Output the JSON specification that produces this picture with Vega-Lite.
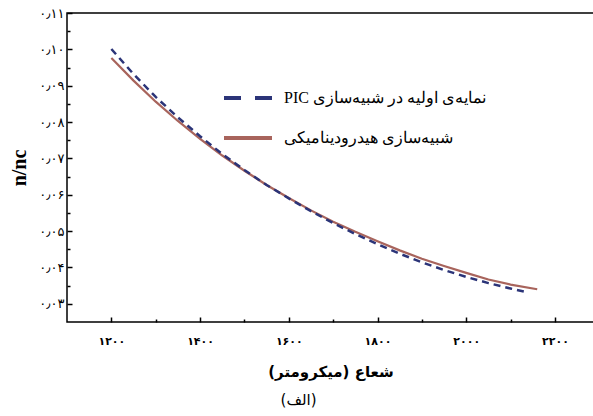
{
  "$schema": "https://vega.github.io/schema/vega-lite/v6.json",
  "width": 527,
  "height": 309,
  "autosize": "none",
  "padding": {"left": 67, "top": 13, "right": -1, "bottom": 94},
  "background": "white",
  "config": {"view": {"stroke": "black", "strokeWidth": 1.5}, "font": "DejaVu Sans"},
  "title": {"text": "(الف)", "orient": "bottom", "anchor": "middle", "frame": "group", "offset": 14, "dx": -32, "fontSize": 15, "fontWeight": "normal", "font": "DejaVu Sans", "color": "black"},
  "data": {"values": [
    {"r": 1200, "n": 0.0976, "series": "شبیه‌سازی هیدرودینامیکی"},
    {"r": 1250, "n": 0.0914, "series": "شبیه‌سازی هیدرودینامیکی"},
    {"r": 1300, "n": 0.0856, "series": "شبیه‌سازی هیدرودینامیکی"},
    {"r": 1350, "n": 0.0803, "series": "شبیه‌سازی هیدرودینامیکی"},
    {"r": 1400, "n": 0.0754, "series": "شبیه‌سازی هیدرودینامیکی"},
    {"r": 1450, "n": 0.0708, "series": "شبیه‌سازی هیدرودینامیکی"},
    {"r": 1500, "n": 0.0666, "series": "شبیه‌سازی هیدرودینامیکی"},
    {"r": 1550, "n": 0.0627, "series": "شبیه‌سازی هیدرودینامیکی"},
    {"r": 1600, "n": 0.0591, "series": "شبیه‌سازی هیدرودینامیکی"},
    {"r": 1650, "n": 0.0557, "series": "شبیه‌سازی هیدرودینامیکی"},
    {"r": 1700, "n": 0.0526, "series": "شبیه‌سازی هیدرودینامیکی"},
    {"r": 1750, "n": 0.0498, "series": "شبیه‌سازی هیدرودینامیکی"},
    {"r": 1800, "n": 0.0472, "series": "شبیه‌سازی هیدرودینامیکی"},
    {"r": 1850, "n": 0.0447, "series": "شبیه‌سازی هیدرودینامیکی"},
    {"r": 1900, "n": 0.0424, "series": "شبیه‌سازی هیدرودینامیکی"},
    {"r": 1950, "n": 0.0404, "series": "شبیه‌سازی هیدرودینامیکی"},
    {"r": 2000, "n": 0.0385, "series": "شبیه‌سازی هیدرودینامیکی"},
    {"r": 2050, "n": 0.0367, "series": "شبیه‌سازی هیدرودینامیکی"},
    {"r": 2100, "n": 0.0353, "series": "شبیه‌سازی هیدرودینامیکی"},
    {"r": 2160, "n": 0.0340, "series": "شبیه‌سازی هیدرودینامیکی"},
    {"r": 1200, "n": 0.1001, "series": "PIC نمایه‌ی اولیه در شبیه‌سازی"},
    {"r": 1250, "n": 0.0932, "series": "PIC نمایه‌ی اولیه در شبیه‌سازی"},
    {"r": 1300, "n": 0.0869, "series": "PIC نمایه‌ی اولیه در شبیه‌سازی"},
    {"r": 1350, "n": 0.0813, "series": "PIC نمایه‌ی اولیه در شبیه‌سازی"},
    {"r": 1400, "n": 0.0761, "series": "PIC نمایه‌ی اولیه در شبیه‌سازی"},
    {"r": 1450, "n": 0.0712, "series": "PIC نمایه‌ی اولیه در شبیه‌سازی"},
    {"r": 1500, "n": 0.0668, "series": "PIC نمایه‌ی اولیه در شبیه‌سازی"},
    {"r": 1550, "n": 0.0627, "series": "PIC نمایه‌ی اولیه در شبیه‌سازی"},
    {"r": 1600, "n": 0.0590, "series": "PIC نمایه‌ی اولیه در شبیه‌سازی"},
    {"r": 1650, "n": 0.0555, "series": "PIC نمایه‌ی اولیه در شبیه‌سازی"},
    {"r": 1700, "n": 0.0522, "series": "PIC نمایه‌ی اولیه در شبیه‌سازی"},
    {"r": 1750, "n": 0.0492, "series": "PIC نمایه‌ی اولیه در شبیه‌سازی"},
    {"r": 1800, "n": 0.0464, "series": "PIC نمایه‌ی اولیه در شبیه‌سازی"},
    {"r": 1850, "n": 0.0438, "series": "PIC نمایه‌ی اولیه در شبیه‌سازی"},
    {"r": 1900, "n": 0.0414, "series": "PIC نمایه‌ی اولیه در شبیه‌سازی"},
    {"r": 1950, "n": 0.0393, "series": "PIC نمایه‌ی اولیه در شبیه‌سازی"},
    {"r": 2000, "n": 0.0374, "series": "PIC نمایه‌ی اولیه در شبیه‌سازی"},
    {"r": 2050, "n": 0.0357, "series": "PIC نمایه‌ی اولیه در شبیه‌سازی"},
    {"r": 2100, "n": 0.0342, "series": "PIC نمایه‌ی اولیه در شبیه‌سازی"},
    {"r": 2140, "n": 0.0331, "series": "PIC نمایه‌ی اولیه در شبیه‌سازی"}
  ]},
  "layer": [
    {
      "transform": [{"filter": {"field": "series", "equal": "شبیه‌سازی هیدرودینامیکی"}}],
      "mark": {"type": "line", "strokeWidth": 2.2},
      "encoding": {
        "x": {"field": "r", "type": "quantitative", "scale": {"domain": [1100, 2288], "nice": false, "zero": false},
          "axis": {"orient": "bottom", "values": [1200,1400,1600,1800,2000,2200], "grid": false, "domain": false, "offset": -5, "ticks": true, "tickColor": "black", "tickWidth": 1.5, "tickSize": 5,
            "labelExpr": "replace(replace(replace(replace(replace(replace(replace(replace(replace(replace(format(datum.value,'d'),regexp('0','g'),'۰'),regexp('1','g'),'۱'),regexp('2','g'),'۲'),regexp('3','g'),'۳'),regexp('4','g'),'۴'),regexp('5','g'),'۵'),regexp('6','g'),'۶'),regexp('7','g'),'۷'),regexp('8','g'),'۸'),regexp('9','g'),'۹')",
            "labelFont": "DejaVu Sans", "labelFontSize": 11, "labelFontWeight": "bold", "labelColor": "black", "labelPadding": 13, "labelFlush": false, "labelOverlap": false,
            "title": "شعاع (میکرومتر)\u200f", "titleFont": "DejaVu Sans", "titleFontSize": 15, "titleFontWeight": "bold", "titleColor": "black", "titlePadding": 18}},
        "y": {"field": "n", "type": "quantitative", "scale": {"domain": [0.025, 0.11], "nice": false, "zero": false},
          "axis": {"orient": "left", "values": [0.03,0.04,0.05,0.06,0.07,0.08,0.09,0.1,0.11], "grid": false, "domain": false, "offset": -5, "ticks": true, "tickColor": "black", "tickWidth": 1.5, "tickSize": 5,
            "labelExpr": "replace(replace(replace(replace(replace(replace(replace(replace(replace(replace(replace(format(datum.value,'.2f'),regexp('0','g'),'۰'),regexp('1','g'),'۱'),regexp('2','g'),'۲'),regexp('3','g'),'۳'),regexp('4','g'),'۴'),regexp('5','g'),'۵'),regexp('6','g'),'۶'),regexp('7','g'),'۷'),regexp('8','g'),'۸'),regexp('9','g'),'۹'),regexp('[.]','g'),'٫')",
            "labelFont": "DejaVu Sans", "labelFontSize": 13, "labelColor": "black", "labelPadding": 3, "labelFlush": false, "labelOverlap": false,
            "title": "n/nc", "titleFont": "Liberation Serif", "titleFontSize": 20, "titleFontWeight": "bold", "titleColor": "black", "titlePadding": 9}},
        "color": {"field": "series", "type": "nominal", "scale": {"domain": ["PIC نمایه‌ی اولیه در شبیه‌سازی", "شبیه‌سازی هیدرودینامیکی"], "range": ["#2b3478", "#a8645c"]},
          "legend": {"orient": "none", "legendX": 155, "legendY": 65, "title": null, "padding": 0, "symbolType": "stroke", "symbolSize": 2304, "symbolStrokeWidth": 4, "clipHeight": 40, "rowPadding": 0, "labelOffset": 10, "labelFont": "Liberation Serif", "labelFontSize": 16, "labelColor": "black", "labelLimit": 400,
            "encode": {"symbols": {"update": {"strokeDash": {"signal": "indexof(datum.label, 'PIC') >= 0 ? [17, 14] : [1, 0]"}}}}}}
      }
    },
    {
      "transform": [{"filter": {"field": "series", "equal": "PIC نمایه‌ی اولیه در شبیه‌سازی"}}],
      "mark": {"type": "line", "strokeWidth": 2.5, "strokeDash": [7, 5]},
      "encoding": {
        "x": {"field": "r", "type": "quantitative", "axis": null},
        "y": {"field": "n", "type": "quantitative", "axis": null},
        "color": {"field": "series", "type": "nominal"}
      }
    },
    {
      "mark": {"type": "line", "opacity": 0},
      "encoding": {
        "x": {"field": "r", "type": "quantitative", "axis": {"orient": "bottom", "values": [1300,1500,1700,1900,2100], "domain": false, "offset": -3, "ticks": true, "tickColor": "black", "tickWidth": 1.5, "tickSize": 3, "labels": false, "grid": false, "title": null}},
        "y": {"field": "n", "type": "quantitative", "axis": {"orient": "left", "values": [0.035,0.045,0.055,0.065,0.075,0.085,0.095,0.105], "domain": false, "offset": -3, "ticks": true, "tickColor": "black", "tickWidth": 1.5, "tickSize": 3, "labels": false, "grid": false, "title": null}}
      }
    }
  ],
  "resolve": {"axis": {"x": "independent", "y": "independent"}}
}
